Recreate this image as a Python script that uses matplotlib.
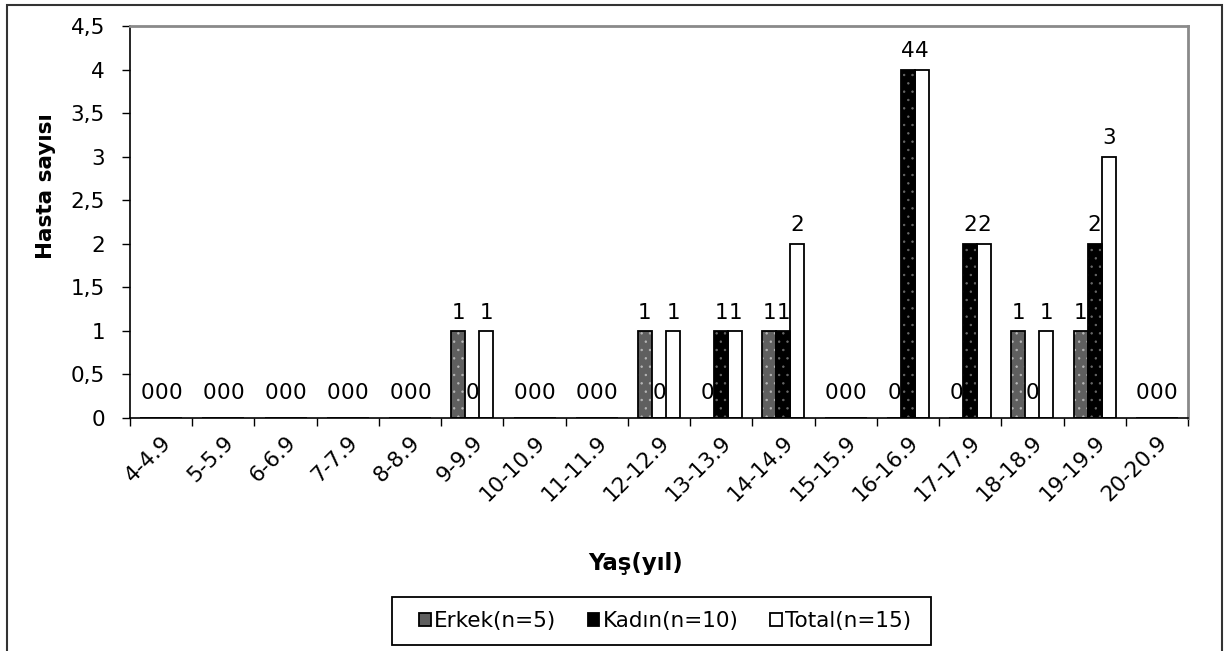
import matplotlib
matplotlib.use("Agg")
import matplotlib.pyplot as plt
from matplotlib.patches import Patch, Rectangle
import numpy as np

categories = ["4-4.9", "5-5.9", "6-6.9", "7-7.9", "8-8.9", "9-9.9", "10-10.9", "11-11.9",
              "12-12.9", "13-13.9", "14-14.9", "15-15.9", "16-16.9", "17-17.9", "18-18.9",
              "19-19.9", "20-20.9"]
erkek = [0, 0, 0, 0, 0, 1, 0, 0, 1, 0, 1, 0, 0, 0, 1, 1, 0]
kadin = [0, 0, 0, 0, 0, 0, 0, 0, 0, 1, 1, 0, 4, 2, 0, 2, 0]
total = [0, 0, 0, 0, 0, 1, 0, 0, 1, 1, 2, 0, 4, 2, 1, 3, 0]
series_names = ["Erkek(n=5)", "Kadın(n=10)", "Total(n=15)"]
yticks = [0, 0.5, 1, 1.5, 2, 2.5, 3, 3.5, 4, 4.5]
ytick_labels = ["0", "0,5", "1", "1,5", "2", "2,5", "3", "3,5", "4", "4,5"]

plt.rcParams['font.family'] = ['DejaVu Sans']
plt.rcParams['hatch.linewidth'] = 0.5

W, H = 1230, 651
fig = plt.figure(figsize=(W / 100, H / 100), dpi=100)
ax = fig.add_axes([130/W, 1-418/H, (1188-130)/W, (418-26)/H])

x = np.arange(len(categories))
w = 0.225
styles = [
    dict(face="#5f5f5f", dots="#b8b8b8", hatch=".."),
    dict(face="#000000", dots="#6a6a6a", hatch=".."),
    dict(face="#ffffff", dots=None, hatch=None),
]
data = [erkek, kadin, total]
handles = []
for i, (vals, st) in enumerate(zip(data, styles)):
    pos = x + (i - 1) * w
    if st["hatch"]:
        ax.bar(pos, vals, w, color=st["face"], edgecolor=st["dots"], hatch=st["hatch"], linewidth=0, zorder=2)
    else:
        ax.bar(pos, vals, w, color=st["face"], linewidth=0, zorder=2)
    ax.bar(pos, vals, w, facecolor="none", edgecolor="black", linewidth=1.3, zorder=3)
    for p, v in zip(pos, vals):
        off = 11 if v == 0 else 6
        ax.annotate(f"{v}", (p, v), xytext=(0, off), textcoords="offset points",
                    ha="center", va="bottom", fontsize=15.5, zorder=4)
    handles.append(Patch(facecolor=st["face"], edgecolor="black", linewidth=1.3,
                         label=series_names[i]))

ax.set_xlim(-0.5, len(categories) - 0.5)
ax.set_ylim(0, 4.5)
ax.set_yticks(yticks)
ax.set_yticklabels(ytick_labels, fontsize=15.5)
ax.set_xticks(np.arange(len(categories) + 1) - 0.5)
ax.set_xticklabels([])
ax.set_xticks(x, minor=True)
ax.set_xticklabels(categories, minor=True, rotation=45, ha="right", rotation_mode="anchor", fontsize=15.5)
ax.tick_params(axis="x", which="minor", length=0, pad=10)
ax.tick_params(axis="x", which="major", length=6, direction="out", width=1)
ax.tick_params(axis="y", length=6, width=1, direction="out", pad=12)
for s in ["left", "bottom"]:
    ax.spines[s].set_color("black")
    ax.spines[s].set_linewidth(1.2)
for s in ["top", "right"]:
    ax.spines[s].set_color("#8a8a8a")
    ax.spines[s].set_linewidth(2)

ax.set_ylabel("Hasta sayısı", fontsize=15.5, fontweight="bold")
ax.yaxis.set_label_coords(-74/1058, (418-186)/392)
ax.set_xlabel("Yaş(yıl)", fontsize=16.5, fontweight="bold")
ax.xaxis.set_label_coords((636-130)/1058, -(552-418)/392)

leg = fig.legend(handles=handles, loc="center", bbox_to_anchor=(665/W, 1-621/H), ncol=3,
                 fontsize=15.5, frameon=False,
                 handlelength=0.55, handleheight=0.55, handletextpad=0.15, columnspacing=1.45,
                 borderpad=0, borderaxespad=0)

# legend frame
fig.patches.append(Rectangle((392/W, 1-645/H), (931-392)/W, (645-597)/H, transform=fig.transFigure,
                             fill=False, edgecolor="black", linewidth=1.3))
# outer chart border
fig.patches.append(Rectangle((7/W, -0.01), (1222-7)/W, 1-5/H + 0.01, transform=fig.transFigure,
                             fill=False, edgecolor="#333333", linewidth=1.5))
fig.savefig("out.png", dpi=100)
